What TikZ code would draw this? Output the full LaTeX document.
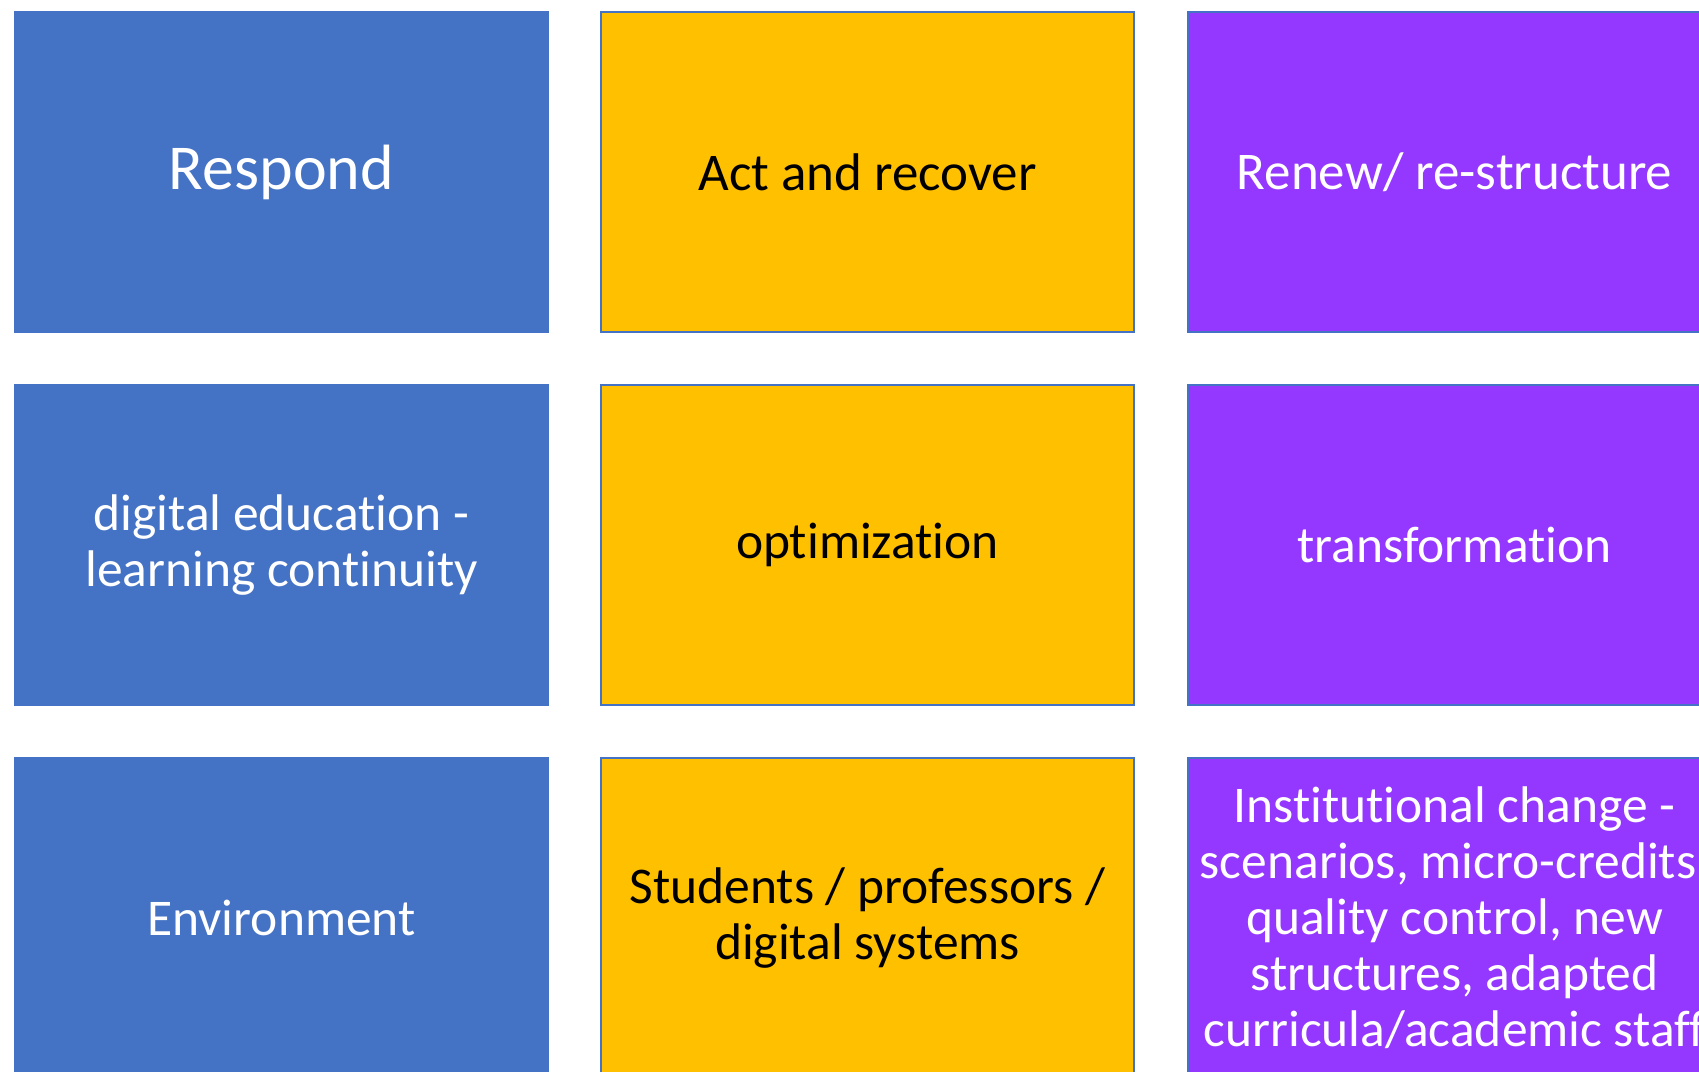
\documentclass[tikz,border=0pt]{standalone}
\usepackage{fontspec}
\setmainfont[Ligatures=NoCommon]{Carlito}
\definecolor{bordblue}{HTML}{4472C4}
\definecolor{cblue}{HTML}{4472C4}
\definecolor{cgold}{HTML}{FFC000}
\definecolor{cpurple}{HTML}{9437FF}
\begin{document}
\begin{tikzpicture}[x=1pt,y=-1pt,
  cell/.style={draw=bordblue, line width=2pt, minimum width=533pt, minimum height=320pt,
    anchor=north west, inner sep=0pt, align=center, font=\fontsize{51.5}{56}\selectfont},
  bluecell/.style={cell, fill=cblue, text=white},
  goldcell/.style={cell, fill=cgold, text=black},
  purplecell/.style={cell, fill=cpurple, text=white},
  toprow/.style={font=\fontsize{53}{56}\selectfont}]
\useasboundingbox (0,0) rectangle (1699,1071);
\clip (0,0) rectangle (1699,1071);
\fill[white] (0,0) rectangle (1699,1071);
% row 1
\node[bluecell, font=\fontsize{64}{66}\selectfont] (r1c1) at (14,11) {Respond};
\node[goldcell, toprow] (r1c2) at (600,11) {Act and recover};
\node[purplecell, toprow] (r1c3) at (1187,11) {Renew/ re-structure};
% row 2
\node[bluecell] (r2c1) at (14,384) {digital education -\\learning continuity};
\node[goldcell] (r2c2) at (600,384) {optimization};
\node[purplecell] (r2c3) at (1187,384) {transformation};
% row 3
\node[bluecell] (r3c1) at (14,757) {Environment};
\node[goldcell] (r3c2) at (600,757) {Students / professors /\\digital systems};
\node[purplecell] (r3c3) at (1187,757) {Institutional change -\\scenarios, micro-credits,\\quality control, new\\structures, adapted\\curricula/academic staff};
\end{tikzpicture}
\end{document}
